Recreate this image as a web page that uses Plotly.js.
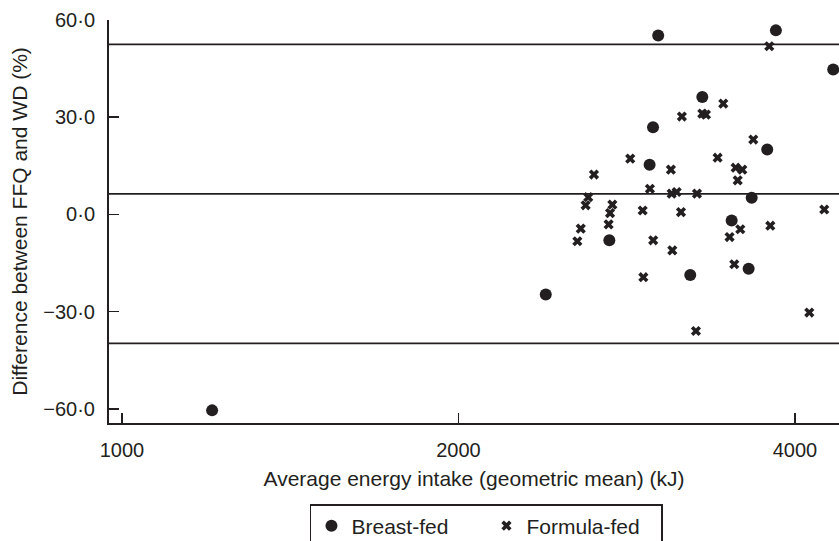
<!DOCTYPE html>
<html>
<head>
<meta charset="utf-8">
<script src="https://cdn.plot.ly/plotly-3.0.1.min.js"></script>
<style>html,body{margin:0;padding:0;background:#fff;}#chart{width:839px;height:541px;}</style>
</head>
<body>
<div id="chart"></div>
<script>
// Breast-fed: average energy intake (kJ) and difference FFQ - WD (%)
var breastX = [3018, 3846, 4328, 3305, 2986, 3778, 2965, 3659, 3511, 2729, 3636, 3224, 2394, 1204];
var breastY = [55.2, 56.8, 44.7, 36.2, 26.9, 20.0, 15.3, 5.1, -1.9, -8.0, -16.8, -18.7, -24.7, -60.5];

// Formula-fed
var formulaX = [3794, 3451, 3169, 3305, 3330, 3671, 2849, 3098, 3411, 3540, 3589, 2644, 3555, 2613, 2599, 2746, 2733, 2967,
                3103, 3135, 3269, 4249, 2923, 3163, 2573, 2725, 3574, 3802, 2555, 2987, 3496, 3107, 3530, 2927, 4120, 3262];
var formulaY = [51.9, 34.2, 30.2, 31.1, 30.8, 23.1, 17.2, 13.8, 17.5, 14.4, 13.8, 12.3, 10.5, 5.3, 2.8, 3.0, 0.4, 7.9,
                6.4, 6.9, 6.4, 1.5, 1.2, 0.7, -4.4, -3.1, -4.6, -3.5, -8.3, -8.0, -7.0, -11.1, -15.4, -19.4, -30.3, -36.0];

// Mean difference and limits of agreement
var agreementLines = [52.5, 6.3, -39.8];

var yTickVals = [60, 30, 0, -30, -60];
var yTickText = ['60\u00b70', '30\u00b70', '0\u00b70', '\u221230\u00b70', '\u221260\u00b70'];
var xTickVals = [1000, 2000, 4000];
var xTickText = ['1000', '2000', '4000'];

var ink = '#231f20';
var fontFam = '"Liberation Sans", Arial, Helvetica, sans-serif';

var traces = [
  {
    x: breastX, y: breastY, type: 'scatter', mode: 'markers', name: 'Breast-fed',
    marker: {symbol: 'circle', size: 12, color: ink, line: {width: 0}}
  },
  {
    x: formulaX, y: formulaY, type: 'scatter', mode: 'markers', name: 'Formula-fed',
    marker: {symbol: 'x', size: 9, color: ink, line: {width: 0}}
  }
];

var shapes = agreementLines.map(function (v) {
  return {type: 'line', xref: 'paper', x0: 0, x1: 1, yref: 'y', y0: v, y1: v,
          line: {color: ink, width: 1.8}, layer: 'below'};
});

var layout = {
  width: 839, height: 541,
  margin: {l: 109, r: 0, t: 20, b: 118, pad: 0, autoexpand: false},
  paper_bgcolor: '#fff', plot_bgcolor: '#fff',
  font: {family: fontFam, size: 20, color: ink},
  showlegend: true,
  legend: {
    orientation: 'h', x: 0.2753, y: -0.201, xanchor: 'left', yanchor: 'top',
    bordercolor: ink, borderwidth: 1.5, bgcolor: '#fff',
    font: {family: fontFam, size: 21, color: ink},
    entrywidth: 130, entrywidthmode: 'pixels'
  },
  xaxis: {
    type: 'log', range: [Math.log10(973.6), Math.log10(4380)],
    tickvals: xTickVals, ticktext: xTickText,
    ticks: 'inside', ticklen: 10, tickwidth: 1.5, tickcolor: ink,
    showline: true, linecolor: ink, linewidth: 2, mirror: false,
    showgrid: false, zeroline: false, ticklabelstandoff: 8,
    tickfont: {family: fontFam, size: 20, color: ink},
    title: {text: 'Average energy intake (geometric mean) (kJ)', standoff: 11,
            font: {family: fontFam, size: 21, color: ink}}
  },
  yaxis: {
    range: [-64.4, 60],
    tickvals: yTickVals, ticktext: yTickText,
    ticks: 'inside', ticklen: 10, tickwidth: 1.5, tickcolor: ink,
    showline: true, linecolor: ink, linewidth: 2, mirror: false,
    showgrid: false, zeroline: false, ticklabelstandoff: 8,
    tickfont: {family: fontFam, size: 20, color: ink},
    title: {text: 'Difference between FFQ and WD (%)', standoff: 10,
            font: {family: fontFam, size: 21, color: ink}}
  },
  shapes: shapes
};

Plotly.newPlot('chart', traces, layout, {staticPlot: true, displayModeBar: false});
</script>
</body>
</html>
